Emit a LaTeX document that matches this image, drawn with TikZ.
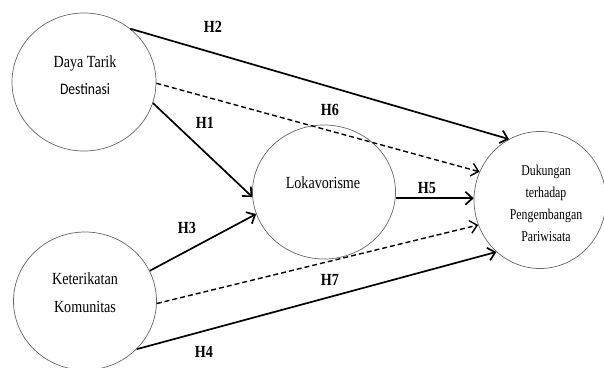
\documentclass[tikz,border=0pt]{standalone}
\usepackage{fontspec}
\setmainfont{Liberation Serif}[FakeStretch=0.83]
\newfontfamily\destfont{Carlito}[FakeStretch=0.85]
\newfontfamily\dpfont{Liberation Serif}[FakeStretch=0.79]
\usetikzlibrary{shapes.geometric,arrows.meta}

\begin{document}
\begin{tikzpicture}[x=1pt,y=1pt,
  var/.style={ellipse,draw=black!60,line width=0.7pt,minimum width=144pt,minimum height=138pt,inner sep=0pt},
  vartext/.style={align=center,font=\fontsize{17}{27}\selectfont},
  hyp/.style={font=\bfseries\fontsize{17}{19}\selectfont},
  direct/.style={line width=1.7pt,-{Straight Barb[length=7pt,width=13pt]}},
  indirect/.style={direct,line width=1.4pt,dash pattern=on 5pt off 3pt}]
\useasboundingbox (0,0) rectangle (604,367);

\node[var] (dtd) at (84,285) {};
\node[var,minimum width=143pt] (kk) at (85,66) {};
\node[var,minimum width=143pt,minimum height=134pt] (lok) at (324,175) {};
\node[var,minimum width=132pt,minimum height=137pt] (dp) at (540,167) {};

\node[vartext] (dtdtext) at (85,291.5) {Daya Tarik\\{\destfont\fontsize{16}{27}\selectfont Destinasi}};
\node[vartext,font=\fontsize{17}{28}\selectfont] (kktext) at (85,74) {Keterikatan\\Komunitas};
\node[vartext] (loktext) at (323,184) {Lokavorisme};
\node[vartext,font=\dpfont\fontsize{15}{22}\selectfont] (dptext) at (546,164) {Dukungan\\terhadap\\Pengembangan\\Pariwisata};

% paths
\draw[direct] (dtd.-17) -- (lok.184);
\draw[direct] (dtd.49) -- (dp.117);
\draw[direct] (kk.25) -- (lok.198);
\draw[direct] (kk.-43) -- (dp.230);
\draw[direct] (lok.-5) -- (lok.-5 -| dp.west);
\draw[indirect] (dtd.-1) -- (dp.155);
\draw[indirect] (kk.-2) -- (dp.202);

\node[hyp] (h1) at (205,244) {H1};
\node[hyp] (h2) at (213,340) {H2};
\node[hyp] (h3) at (187,139) {H3};
\node[hyp] (h4) at (204,15) {H4};
\node[hyp] (h5) at (427,179) {H5};
\node[hyp] (h6) at (330,257) {H6};
\node[hyp] (h7) at (330,87) {H7};
\end{tikzpicture}
\end{document}
